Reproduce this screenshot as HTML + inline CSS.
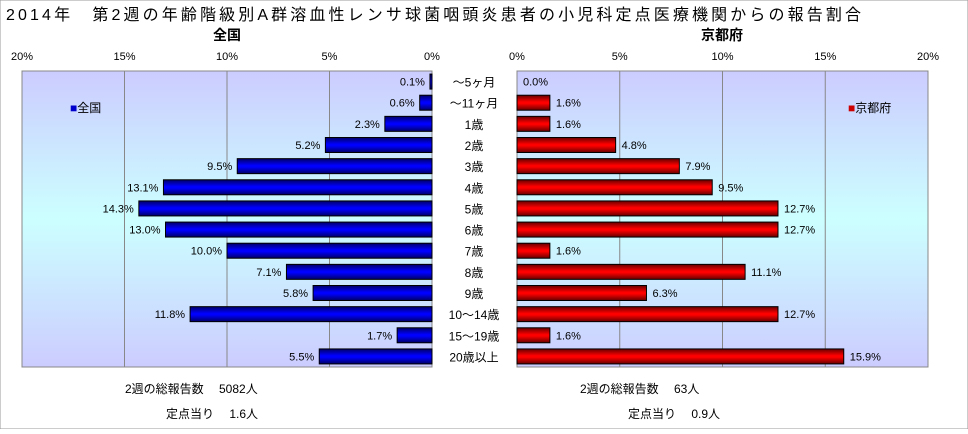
<!DOCTYPE html>
<html><head><meta charset="utf-8"><style>
body{margin:0;background:#fff;}
svg text{font-family:"Liberation Sans","Noto Sans CJK JP",sans-serif;}
</style></head><body>
<svg width="968" height="429" xmlns="http://www.w3.org/2000/svg">
<defs>
<linearGradient id="bg" x1="0" y1="0" x2="0" y2="1">
<stop offset="0" stop-color="#ccccff"/><stop offset="0.5" stop-color="#ccffff"/><stop offset="1" stop-color="#ccccff"/></linearGradient>
<linearGradient id="bl" x1="0" y1="0" x2="0" y2="1">
<stop offset="0" stop-color="#000066"/><stop offset="0.45" stop-color="#0000ff"/><stop offset="0.55" stop-color="#0000ff"/><stop offset="1" stop-color="#000066"/></linearGradient>
<linearGradient id="rd" x1="0" y1="0" x2="0" y2="1">
<stop offset="0" stop-color="#660000"/><stop offset="0.45" stop-color="#ff0000"/><stop offset="0.55" stop-color="#ff0000"/><stop offset="1" stop-color="#660000"/></linearGradient>
</defs>
<rect width="968" height="429" fill="#fff" stroke="#999"/>
<text x="6" y="20" font-size="16" textLength="855">2014年　第2週の年齢階級別A群溶血性レンサ球菌咽頭炎患者の小児科定点医療機関からの報告割合</text>
<text x="227" y="40" font-size="14" font-weight="bold" text-anchor="middle">全国</text>
<text x="722" y="40" font-size="14" font-weight="bold" text-anchor="middle">京都府</text>
<rect x="22" y="71" width="410" height="296" fill="url(#bg)" stroke="#888"/>
<rect x="517" y="71" width="411" height="296" fill="url(#bg)" stroke="#888"/>
<g id="g"></g>
<text x="70" y="112" font-size="12"><tspan fill="#0000cc">■</tspan>全国</text>
<text x="848" y="112" font-size="12"><tspan fill="#cc0000">■</tspan>京都府</text>
<text x="125" y="393" font-size="12">2週の総報告数　 5082人</text>
<text x="166" y="418" font-size="12">定点当り　 1.6人</text>
<text x="580" y="393" font-size="12">2週の総報告数　 63人</text>
<text x="628" y="418" font-size="12">定点当り　 0.9人</text>
</svg>
<script>
const categories=["～5ヶ月","～11ヶ月","1歳","2歳","3歳","4歳","5歳","6歳","7歳","8歳","9歳","10～14歳","15～19歳","20歳以上"];
const national=[0.1,0.6,2.3,5.2,9.5,13.1,14.3,13.0,10.0,7.1,5.8,11.8,1.7,5.5];
const kyoto=[0.0,1.6,1.6,4.8,7.9,9.5,12.7,12.7,1.6,11.1,6.3,12.7,1.6,15.9];
const ticks=[0,5,10,15,20];
const NS="http://www.w3.org/2000/svg";
const g=document.getElementById('g');
const top0=71,rowH=296/14;
const xL=v=>432-v*410/20, xR=v=>517+v*411/20;
const yRow=i=>top0+rowH*i+rowH/2;
function mk(t,a,txt){const e=document.createElementNS(NS,t);for(const k in a)e.setAttribute(k,a[k]);if(txt!=null)e.textContent=txt;g.appendChild(e);return e;}
ticks.forEach(t=>{
 if(t>0&&t<20){
  let l=mk('line',{x1:xL(t),x2:xL(t),y1:71,y2:367,stroke:'#888'});
  
  
  let r=mk('line',{x1:xR(t),x2:xR(t),y1:71,y2:367,stroke:'#888'});
  
  
 }
 let a=mk('text',{x:xL(t),y:60,'font-size':11,'text-anchor':'middle'},t+'%');
 
 
 let b=mk('text',{x:xR(t),y:60,'font-size':11,'text-anchor':'middle'},t+'%');
 
 
});
categories.forEach((c,i)=>{
 const y=yRow(i);
 let t=mk('text',{x:474,y:y+5,'font-size':12,'text-anchor':'middle'},c);
 
 
 const v=national[i];
 let r=mk('rect',{x:xL(v),y:y-7.5,width:432-xL(v),height:15,fill:'url(#bl)',stroke:'#000'});
 
 
 let l=mk('text',{x:xL(v)-5,y:y+4,'font-size':11,'text-anchor':'end'},v.toFixed(1)+'%');
 
 
 const k=kyoto[i];
 if(k>0){
  let r2=mk('rect',{x:517,y:y-7.5,width:xR(k)-517,height:15,fill:'url(#rd)',stroke:'#000'});
  
  
 }
 let l2=mk('text',{x:xR(k)+6,y:y+4,'font-size':11},k.toFixed(1)+'%');
 
 
});
</script>
</body></html>
